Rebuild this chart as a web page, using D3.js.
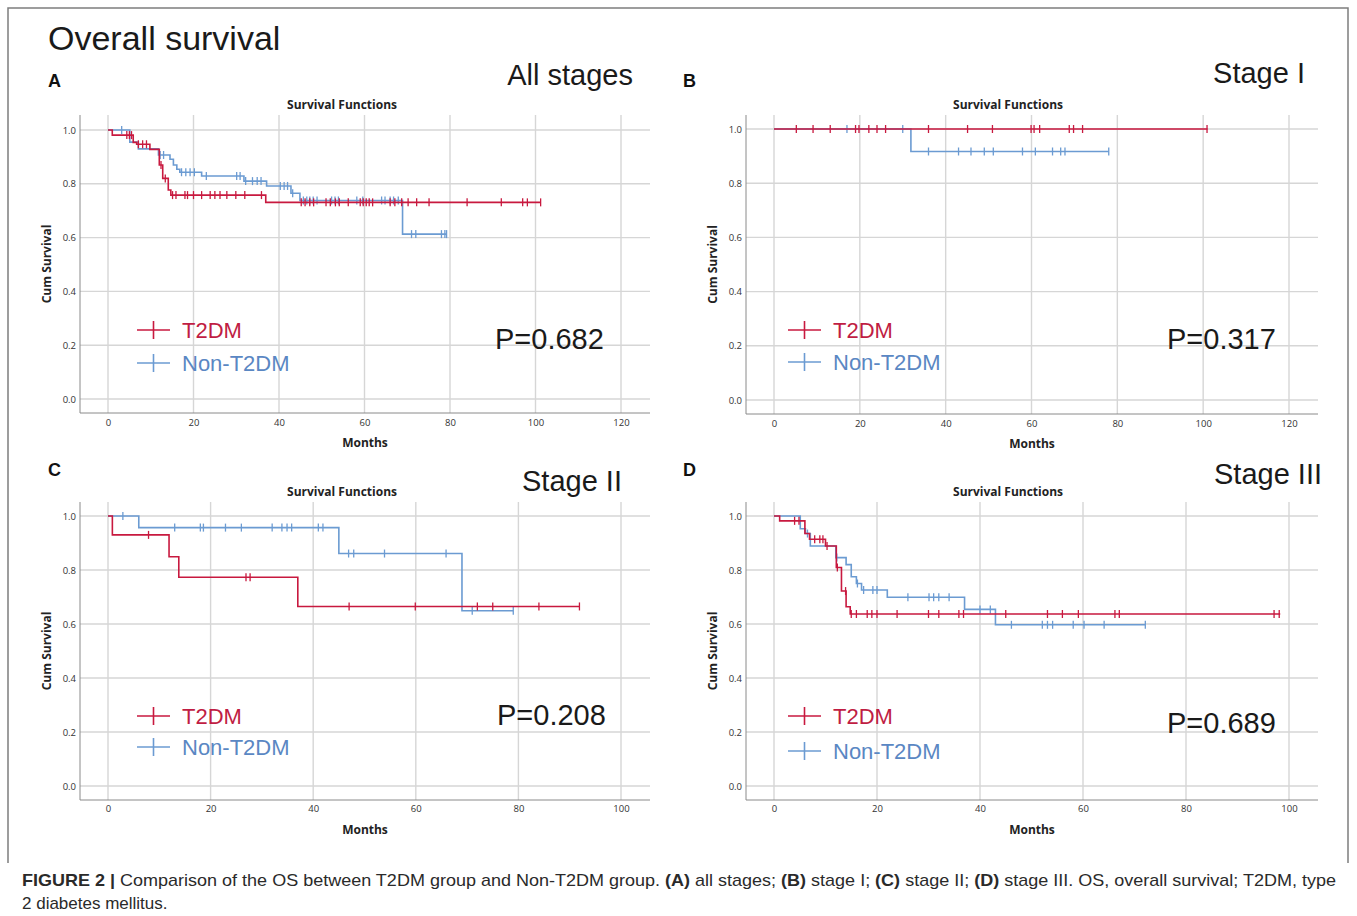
<!DOCTYPE html>
<html><head><meta charset="utf-8">
<script src="https://cdn.jsdelivr.net/npm/d3@7"></script>
<style>
html,body{margin:0;padding:0;background:#fff;}
svg{display:block;}
</style></head>
<body>
<svg id="chart" width="1357" height="916"></svg>
<script>
// ---------------- DATA ----------------
const yTicks = [0, 0.2, 0.4, 0.6, 0.8, 1.0];
const xTicksAB = [0, 20, 40, 60, 80, 100, 120];
const xTicksCD = [0, 20, 40, 60, 80, 100];
const seriesNames = ["T2DM", "Non-T2DM"];
const panelLetters = ["A", "B", "C", "D"];
const panelTitles = ["All stages", "Stage I", "Stage II", "Stage III"];
const pValues = ["P=0.682", "P=0.317", "P=0.208", "P=0.689"];

// Panel A: all stages  (steps = [month, cum survival]; censored = months)
const A_T2DM_steps = [[0,1],[1,0.981],[5.9,0.954],[6.7,0.947],[9.8,0.928],[12,0.870],[12.8,0.82],[14.1,0.777],[14.7,0.758],[36.9,0.731]];
const A_T2DM_end = 101.2;
const A_T2DM_censored = [4.4,5,5.5,7.1,8.1,9.0,12.4,13.4,15.1,15.9,18,18.6,20,21.9,23.9,25,26.2,27.8,29.9,32,35.9,45.2,46.1,47.2,48.1,51,52,53.2,54.1,56.2,59,59.7,60.4,61.1,61.9,66,67.1,68.7,70.2,72.2,75.1,84,92,97,98.1,101.2];
const A_Non_steps = [[0,1],[5.1,0.955],[7.1,0.930],[11.8,0.907],[14.5,0.891],[15.3,0.870],[16.1,0.854],[16.8,0.843],[21.9,0.829],[31.8,0.810],[37.1,0.792],[42.8,0.765],[44.9,0.738],[68.9,0.613]];
const A_Non_end = 79.2;
const A_Non_censored = [3.2,12.2,13,17.2,18.2,19.2,20.2,23,30.1,30.9,32.2,33.8,34.9,35.8,40.3,41.2,42,43.2,45.7,46.5,47.2,48,48.9,52.3,53.1,53.9,58.2,59.6,64,64.8,66,66.8,67.9,71,72,78,78.8,79.2];

// Panel B: stage I
const B_T2DM_steps = [[0,1]];
const B_T2DM_end = 101;
const B_T2DM_censored = [5.2,9.1,13.1,19,19.8,22.1,24,26,36,45.1,50.9,59.9,60.6,61.9,68.8,69.8,71.9,100.9];
const B_Non_steps = [[0,1],[31.9,0.917]];
const B_Non_end = 78;
const B_Non_censored = [17,30,36,43,45.9,49,51.1,57.9,60.9,64.9,66.8,67.8,78];

// Panel C: stage II
const C_T2DM_steps = [[0,1],[0.85,0.930],[11.9,0.849],[13.8,0.773],[37,0.665]];
const C_T2DM_end = 91.9;
const C_T2DM_censored = [7.9,26.9,27.7,47,59.9,72,75,84,91.9];
const C_Non_steps = [[0,1],[6,0.957],[45,0.861],[69,0.649]];
const C_Non_end = 79;
const C_Non_censored = [2.9,13,18,18.6,22.9,26,32,33.9,34.9,35.8,41,41.9,46.9,47.9,53.9,65.9,71,79];

// Panel D: stage III
const D_T2DM_steps = [[0,1],[1.1,0.982],[6,0.935],[6.9,0.914],[10,0.889],[12.1,0.809],[13.1,0.722],[14,0.664],[14.8,0.637]];
const D_T2DM_end = 98.3;
const D_T2DM_censored = [4,4.85,7.9,8.9,9.5,10.3,12.3,13.9,15,16,18.1,19,20,23.9,30,32,35.9,36.8,45,53.1,56,59.1,66.2,67.05,97.1,98.1];
const D_Non_steps = [[0,1],[5.1,0.953],[6.1,0.935],[7.05,0.889],[12,0.846],[14,0.820],[15,0.775],[16,0.750],[17,0.726],[22,0.699],[37,0.654],[43,0.597]];
const D_Non_end = 72.1;
const D_Non_censored = [6.5,12.2,16.2,17.4,19.2,20,26,30.1,31,32,34,40,42,46.1,52.1,53.1,54.1,58.1,60.2,64.1,72.1];

// ---------------- STYLE / LAYOUT ----------------
const RED = "#c8193f", BLUE = "#6b9bd2";
const RED_TXT = "#c01d43", BLUE_TXT = "#5a87c3";
const GRID = "#d6d6d6", AXIS = "#8a8a8a";
const SANS = "'Liberation Sans', Arial, Helvetica, sans-serif";
const SPSS = "'Open Sans', 'Liberation Sans', sans-serif";

const svg = d3.select("#chart");

// frame
svg.append("path").attr("d", "M8,863V8H1348V863")
  .attr("fill", "none").attr("stroke", "#7d7d7d").attr("stroke-width", 1.5);

svg.append("text").attr("x", 48).attr("y", 50)
  .attr("font-family", SANS).attr("font-size", 34).attr("fill", "#1a1a1a")
  .text("Overall survival");

const panels = [
  {left:80, right:650, top:115, bottom:413, x0:108, x1:621, ticks:xTicksAB, y0:399, y1:130,
   red:[A_T2DM_steps, A_T2DM_end, A_T2DM_censored], blue:[A_Non_steps, A_Non_end, A_Non_censored],
   letter:[48,87], title:[633,85], legX:137, legY:[330,363], p:[495,349], titleY:109, tickY:426, monthsY:447},
  {left:746, right:1318, top:115, bottom:414, x0:774, x1:1289, ticks:xTicksAB, y0:400, y1:129,
   red:[B_T2DM_steps, B_T2DM_end, B_T2DM_censored], blue:[B_Non_steps, B_Non_end, B_Non_censored],
   letter:[683,87], title:[1305,83], legX:788, legY:[330,362], p:[1167,349], titleY:109, tickY:427, monthsY:448},
  {left:80, right:650, top:502, bottom:800, x0:108, x1:621, ticks:xTicksCD, y0:786, y1:516,
   red:[C_T2DM_steps, C_T2DM_end, C_T2DM_censored], blue:[C_Non_steps, C_Non_end, C_Non_censored],
   letter:[48,476], title:[622,491], legX:137, legY:[716,747], p:[497,725], titleY:496, tickY:812, monthsY:834},
  {left:746, right:1318, top:502, bottom:800, x0:774, x1:1289, ticks:xTicksCD, y0:786, y1:516,
   red:[D_T2DM_steps, D_T2DM_end, D_T2DM_censored], blue:[D_Non_steps, D_Non_end, D_Non_censored],
   letter:[683,476], title:[1322,484], legX:788, legY:[716,751], p:[1167,733], titleY:496, tickY:812, monthsY:834}
];

function survAt(steps, t) {
  let s = steps[0][1];
  for (const [tt, v] of steps) { if (tt <= t) s = v; }
  return s;
}

panels.forEach((P, i) => {
  const g = svg.append("g");
  const x = d3.scaleLinear().domain([d3.min(P.ticks), d3.max(P.ticks)]).range([P.x0, P.x1]);
  const y = d3.scaleLinear().domain([0, 1]).range([P.y0, P.y1]);

  // grid
  g.append("g").selectAll("line").data(yTicks).join("line")
    .attr("x1", P.left).attr("x2", P.right)
    .attr("y1", d => y(d)).attr("y2", d => y(d))
    .attr("stroke", GRID).attr("stroke-width", 1.4);
  g.append("g").selectAll("line").data(P.ticks).join("line")
    .attr("x1", d => x(d)).attr("x2", d => x(d))
    .attr("y1", P.top).attr("y2", P.bottom)
    .attr("stroke", GRID).attr("stroke-width", 1.4);

  // axes (library axes, ticks hidden, SPSS-like)
  const ax = g.append("g").attr("transform", `translate(0,${P.tickY - 8})`)
    .call(d3.axisBottom(x).tickValues(P.ticks).tickSize(0).tickPadding(1).tickFormat(d3.format("d")));
  ax.select(".domain").remove();
  ax.selectAll("text").attr("font-family", SPSS).attr("font-size", 9.5).attr("fill", "#333");
  const ay = g.append("g").attr("transform", `translate(${P.left - 4},0)`)
    .call(d3.axisLeft(y).tickValues(yTicks).tickSize(0).tickPadding(0).tickFormat(d3.format(".1f")));
  ay.select(".domain").remove();
  ay.selectAll("text").attr("font-family", SPSS).attr("font-size", 9.5).attr("fill", "#333");

  g.append("line").attr("x1", P.left).attr("x2", P.left).attr("y1", P.top).attr("y2", P.bottom)
    .attr("stroke", AXIS).attr("stroke-width", 1);
  g.append("line").attr("x1", P.left).attr("x2", P.right).attr("y1", P.bottom).attr("y2", P.bottom)
    .attr("stroke", AXIS).attr("stroke-width", 1);

  // SPSS titles
  g.append("text").attr("x", P.left + 262).attr("y", P.titleY).attr("text-anchor", "middle")
    .attr("font-family", SPSS).attr("font-weight", "bold").attr("font-size", 12).attr("fill", "#222")
    .text("Survival Functions");
  g.append("text").attr("x", (P.left + P.right) / 2).attr("y", P.monthsY).attr("text-anchor", "middle")
    .attr("font-family", SPSS).attr("font-weight", "bold").attr("font-size", 12).attr("fill", "#222")
    .text("Months");
  g.append("text").attr("transform", `translate(${P.left - 29},${(P.top + P.bottom) / 2}) rotate(-90)`)
    .attr("text-anchor", "middle")
    .attr("font-family", SPSS).attr("font-weight", "bold").attr("font-size", 12).attr("fill", "#222")
    .text("Cum Survival");

  // curves
  const line = d3.line().x(d => x(d[0])).y(d => y(d[1])).curve(d3.curveStepAfter);
  [[P.blue, BLUE], [P.red, RED]].forEach(([ser, col]) => {
    const [steps, end, cens] = ser;
    const pts = steps.concat([[end, steps[steps.length - 1][1]]]);
    g.append("path").attr("d", line(pts)).attr("fill", "none")
      .attr("stroke", col).attr("stroke-width", 1.6);
    g.append("g").selectAll("line").data(cens).join("line")
      .attr("x1", d => x(d)).attr("x2", d => x(d))
      .attr("y1", d => y(survAt(steps, d)) - 4).attr("y2", d => y(survAt(steps, d)) + 4)
      .attr("stroke", col).attr("stroke-width", 1.3);
  });

  // legend
  [[seriesNames[0], RED, RED_TXT, P.legY[0]], [seriesNames[1], BLUE, BLUE_TXT, P.legY[1]]].forEach(([nm, col, tcol, ly]) => {
    g.append("line").attr("x1", P.legX).attr("x2", P.legX + 33).attr("y1", ly).attr("y2", ly)
      .attr("stroke", col).attr("stroke-width", 1.6);
    g.append("line").attr("x1", P.legX + 16.5).attr("x2", P.legX + 16.5).attr("y1", ly - 9).attr("y2", ly + 9)
      .attr("stroke", col).attr("stroke-width", 1.6);
    g.append("text").attr("x", P.legX + 45).attr("y", ly + 8)
      .attr("font-family", SANS).attr("font-size", 22).attr("fill", tcol).text(nm);
  });

  // P value, letter, stage title
  g.append("text").attr("x", P.p[0]).attr("y", P.p[1])
    .attr("font-family", SANS).attr("font-size", 29).attr("fill", "#1a1a1a").text(pValues[i]);
  g.append("text").attr("x", P.letter[0]).attr("y", P.letter[1])
    .attr("font-family", SANS).attr("font-weight", "bold").attr("font-size", 18).attr("fill", "#111").text(panelLetters[i]);
  g.append("text").attr("x", P.title[0]).attr("y", P.title[1]).attr("text-anchor", "end")
    .attr("font-family", SANS).attr("font-size", 29).attr("fill", "#1a1a1a").text(panelTitles[i]);
});

// caption
const cap = svg.append("text").attr("x", 22).attr("y", 886)
  .attr("font-family", SANS).attr("font-size", 17).attr("fill", "#2a2a2a")
  .attr("textLength", 1314).attr("lengthAdjust", "spacingAndGlyphs");
cap.append("tspan").attr("font-weight", "bold").text("FIGURE 2 | ");
cap.append("tspan").text("Comparison of the OS between T2DM group and Non-T2DM group. ");
cap.append("tspan").attr("font-weight", "bold").text("(A)");
cap.append("tspan").text(" all stages; ");
cap.append("tspan").attr("font-weight", "bold").text("(B)");
cap.append("tspan").text(" stage I; ");
cap.append("tspan").attr("font-weight", "bold").text("(C)");
cap.append("tspan").text(" stage II; ");
cap.append("tspan").attr("font-weight", "bold").text("(D)");
cap.append("tspan").text(" stage III. OS, overall survival; T2DM, type");
svg.append("text").attr("x", 22).attr("y", 909)
  .attr("font-family", SANS).attr("font-size", 17).attr("fill", "#2a2a2a")
  .text("2 diabetes mellitus.");
</script>
</body></html>
